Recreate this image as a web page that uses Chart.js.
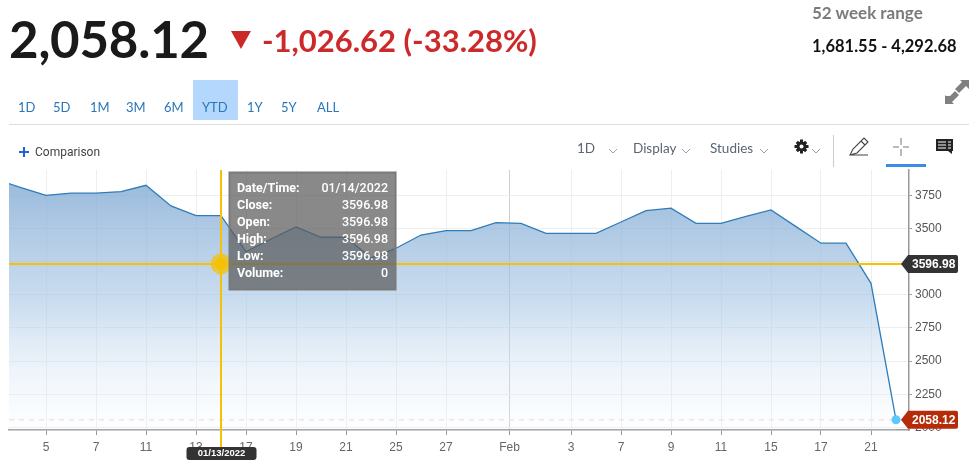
<!DOCTYPE html>
<html>
<head>
<meta charset="utf-8">
<script src="https://cdn.jsdelivr.net/npm/chart.js@4"></script>
<style>
html,body{margin:0;padding:0;background:#fff;width:980px;height:470px;overflow:hidden}
#wrap{position:relative;width:980px;height:470px;font-family:Lato,sans-serif}
canvas{position:absolute;left:0;top:0}
.a{position:absolute;white-space:nowrap}
#price{left:9px;top:9px;font-size:51px;font-weight:700;color:#1a1a1a;line-height:60px;letter-spacing:-.2px}
#chg{left:262px;top:21px;font-size:31px;font-weight:700;color:#cc2a2a;line-height:38px}
#rl{left:812px;top:3px;font-size:17px;font-weight:700;color:#7b7b7b;line-height:20px}
#rv{left:812px;top:36px;font-size:16.5px;font-weight:700;color:#111;line-height:20px}
.r{top:97px;font-size:13px;color:#2a76b8;line-height:20px}
#ytd{left:193px;top:80px;width:45px;height:40px;background:#b4d8fd}
#rule{left:9px;top:124px;width:960px;height:1px;background:#ddd}
#cmp{left:35px;top:144px;font:12px Roboto,sans-serif;color:#444;line-height:16px}
.t{top:140px;font-size:13.5px;color:#5b6573;line-height:16px}
#div{left:833px;top:135px;width:1px;height:32px;background:#ccc}
#ul{left:886px;top:164px;width:40px;height:3px;background:#3b8bea}
svg{position:absolute;overflow:visible}
</style>
</head>
<body>
<div id="wrap">
<canvas id="c" width="980" height="470"></canvas>
<div class="a" id="price">2,058.12</div>
<svg style="left:0;top:0" width="980" height="170">
  <polygon points="231,31 251,31 241,49" fill="#cc2a2a"/>
  <path d="M19 152h10M24 147v10" stroke="#1f63d0" stroke-width="2" fill="none"/>
  <path d="M945 104v-8l8 0zM945 104l7-7" fill="#808080"/>
  <polygon points="945,104 945,95 948,98 955,91 959,95 952,102 954,104" fill="#808080"/>
  <polygon points="969,80 969,89 966,86 959,93 955,89 962,82 960,80" fill="#808080"/>
  <path d="M609 149l4 4 4-4M682 149l4 4 4-4M760 149l4 4 4-4M812 149l4 4 4-4" stroke="#9aa0a8" fill="none"/>
  <g transform="translate(801.5,146.5)" fill="#222"><circle r="5"/><path d="M-1.5-7h3v14h-3zM-7-1.5h14v3h-14zM-5.8-3.6l2.2-2.2 9.4 9.4-2.2 2.2zM5.8-3.6l-2.2-2.2-9.4 9.4 2.2 2.2z"/><circle r="2" fill="#fff"/></g>
  <path d="M850 155l3-6 11-11 4 4-11 11zM850 155h18M861 141l4 4" stroke="#444" stroke-width="1.1" fill="none"/>
  <path d="M901 138v7M901 149v7M893 147h6M903 147h6" stroke="#777" fill="none"/>
  <path d="M936 139h17v12h-1v3l-4-3h-12z" fill="#222"/>
  <path d="M938 142h8M938 145h8M938 148h8M948 142h3M948 145h3M948 148h3" stroke="#fff" stroke-width="1" fill="none"/>
</svg>
<div class="a" id="chg">-1,026.62 (-33.28%)</div>
<div class="a" id="rl">52 week range</div>
<div class="a" id="rv">1,681.55 - 4,292.68</div>
<div class="a" id="ytd"></div>
<div class="a r" style="left:18px">1D</div>
<div class="a r" style="left:53px">5D</div>
<div class="a r" style="left:90px">1M</div>
<div class="a r" style="left:126px">3M</div>
<div class="a r" style="left:164px">6M</div>
<div class="a r" style="left:202px">YTD</div>
<div class="a r" style="left:247px">1Y</div>
<div class="a r" style="left:281px">5Y</div>
<div class="a r" style="left:317px">ALL</div>
<div class="a" id="rule"></div>
<div class="a" id="cmp">Comparison</div>
<div class="a t" style="left:577px">1D</div>
<div class="a t" style="left:633px">Display</div>
<div class="a t" style="left:710px">Studies</div>
<div class="a" id="div"></div>
<div class="a" id="ul"></div>
</div>
<script>
// Daily closes, one per trading day (first one lies left of the visible range)
const closes = [3870, 3809, 3750, 3766, 3766, 3778, 3826, 3670, 3596.98, 3596.98,
                3325, 3421, 3512, 3434, 3434, 3278, 3351, 3451, 3484, 3484,
                3544, 3539, 3464, 3464, 3464, 3549, 3635, 3653, 3539, 3539,
                3592, 3640, 3514, 3389, 3389, 3087, 2058.12];
const xTickPositions = [2, 4, 6, 8, 10, 12, 14, 16, 18, 20.54, 23, 25, 27, 29, 31, 33, 35];
const xTickLabels = ['5','7','11','13','17','19','21','25','27','Feb','3','7','9','11','15','17','21'];
const yTickValues = [2000, 2250, 2500, 2750, 3000, 3250, 3500, 3750];
const lastClose = 2058.12;
const hoverIndex = 9;
const crosshairValue = 3233;
const hoverLabel = '3596.98';
const lastLabel = '2058.12';
const hoverDateTag = '01/13/2022';
const tooltipRows = [['Date/Time:','01/14/2022'],['Close:','3596.98'],['Open:','3596.98'],['High:','3596.98'],['Low:','3596.98'],['Volume:','0']];
const xRange = [0.52, 36.52];
const yRange = [1981, 3941];

const tag = (ctx, x, y, text, color) => {
  ctx.fillStyle = color;
  ctx.beginPath();
  ctx.moveTo(x, y);
  ctx.lineTo(x + 7, y - 9);
  ctx.lineTo(x + 55, y - 9);
  ctx.quadraticCurveTo(x + 57, y - 9, x + 57, y - 7);
  ctx.lineTo(x + 57, y + 7);
  ctx.quadraticCurveTo(x + 57, y + 9, x + 55, y + 9);
  ctx.lineTo(x + 7, y + 9);
  ctx.closePath();
  ctx.fill();
  ctx.fillStyle = '#fff';
  ctx.font = 'bold 12px "Liberation Sans"';
  ctx.textAlign = 'left';
  ctx.textBaseline = 'middle';
  ctx.fillText(text, x + 11, y + 0.5);
};

const overlay = {
  id: 'overlay',
  afterDatasetsDraw(chart) {
    const {ctx, scales: {x, y}, chartArea: a} = chart;
    const cx = x.getPixelForValue(hoverIndex), cy = y.getPixelForValue(crosshairValue);
    const ly = y.getPixelForValue(lastClose), lx = x.getPixelForValue(closes.length - 1);
    ctx.save();
    // value tags cover the y labels
    tag(ctx, a.right - 8, ly, lastLabel, '#b52d08');
    ctx.strokeStyle = '#f6c200';
    ctx.lineWidth = 2;
    ctx.beginPath();
    ctx.moveTo(a.left, cy); ctx.lineTo(a.right - 7, cy);
    ctx.moveTo(cx, a.top); ctx.lineTo(cx, 447);
    ctx.stroke();
    tag(ctx, a.right - 8, cy, hoverLabel, '#333');
    ctx.fillStyle = 'rgba(246,194,0,.72)';
    ctx.beginPath(); ctx.arc(cx, cy, 10.5, 0, 7); ctx.fill();
    ctx.fillStyle = '#f6c200';
    ctx.beginPath(); ctx.arc(cx, cy, 6, 0, 7); ctx.fill();
    // date tag
    ctx.fillStyle = '#333';
    ctx.beginPath(); ctx.roundRect(cx - 34.5, 447, 70, 13, 3); ctx.fill();
    ctx.fillStyle = '#fff';
    ctx.font = 'bold 9.5px "Liberation Sans"';
    ctx.textAlign = 'center';
    ctx.textBaseline = 'middle';
    ctx.fillText(hoverDateTag, cx + 0.5, 453.5);
    // hover box
    ctx.fillStyle = 'rgba(92,92,92,.72)';
    ctx.fillRect(229, 172, 167, 118);
    ctx.strokeStyle = '#7a7a7a';
    ctx.strokeRect(229.5, 172.5, 166, 117);
    tooltipRows.forEach((r, i) => {
      const ry = 188.5 + i * 17;
      ctx.fillStyle = '#fff';
      ctx.textAlign = 'left';
      ctx.font = 'bold 12.5px Roboto';
      ctx.fillText(r[0], 237, ry);
      ctx.textAlign = 'right';
      ctx.font = '500 12.5px Roboto';
      ctx.fillText(r[1], 388, ry);
    });
    ctx.restore();
  }
};

new Chart(document.getElementById('c'), {
  type: 'line',
  data: {
    datasets: [{
      data: closes.map((v, i) => ({x: i, y: v})),
      borderColor: '#2f7cb9',
      borderWidth: 1.3,
      tension: 0,
      fill: 'start',
      backgroundColor(c) {
        const a = c.chart.chartArea;
        if (!a) return 'transparent';
        const g = c.chart.ctx.createLinearGradient(0, 183, 0, a.bottom);
        g.addColorStop(0, 'rgba(126,168,210,.78)');
        g.addColorStop(0.5, 'rgba(170,200,230,.6)');
        g.addColorStop(1, 'rgba(240,247,253,.15)');
        return g;
      },
      pointRadius: closes.map((v, i) => i === closes.length - 1 ? 4.5 : 0),
      pointBackgroundColor: '#5cc8fb',
      pointBorderWidth: 0,
      order: 1
    }, {
      data: xRange.map(v => ({x: v, y: lastClose})),
      borderColor: '#f6dfda',
      borderWidth: 1.5,
      borderDash: [5, 5],
      pointRadius: 0,
      fill: false,
      order: 2
    }]
  },
  options: {
    responsive: false,
    animation: false,
    events: [],
    layout: {padding: {left: 9, top: 170, right: 0, bottom: 0}},
    plugins: {legend: {display: false}, tooltip: {enabled: false}},
    scales: {
      x: {
        type: 'linear',
        min: xRange[0],
        max: xRange[1],
        afterBuildTicks(s) { s.ticks = xTickPositions.map(v => ({value: v})); },
        afterFit(s) { s.height = 40; },
        grid: {
          color: c => xTickLabels[c.index] === 'Feb' ? '#cfcfcf' : '#eeeeee',
          tickColor: '#999',
          tickLength: 5,
          lineWidth: 1
        },
        border: {color: '#999', width: 1.5},
        ticks: {
          autoSkip: false,
          maxRotation: 0,
          padding: 5,
          color: '#666',
          font: {family: '"Liberation Sans"', size: 12},
          callback: (v, i) => xTickLabels[i]
        }
      },
      y: {
        position: 'right',
        min: yRange[0],
        max: yRange[1],
        afterBuildTicks(s) { s.ticks = yTickValues.map(v => ({value: v})); },
        afterFit(s) { s.width = 71; },
        grid: {color: '#eeeeee', tickColor: '#999', tickLength: 3},
        border: {color: '#999', width: 1.5},
        ticks: {
          padding: 3,
          color: '#555',
          font: {family: '"Liberation Sans"', size: 12},
          callback: v => String(v)
        }
      }
    }
  },
  plugins: [overlay]
});
</script>
</body>
</html>
